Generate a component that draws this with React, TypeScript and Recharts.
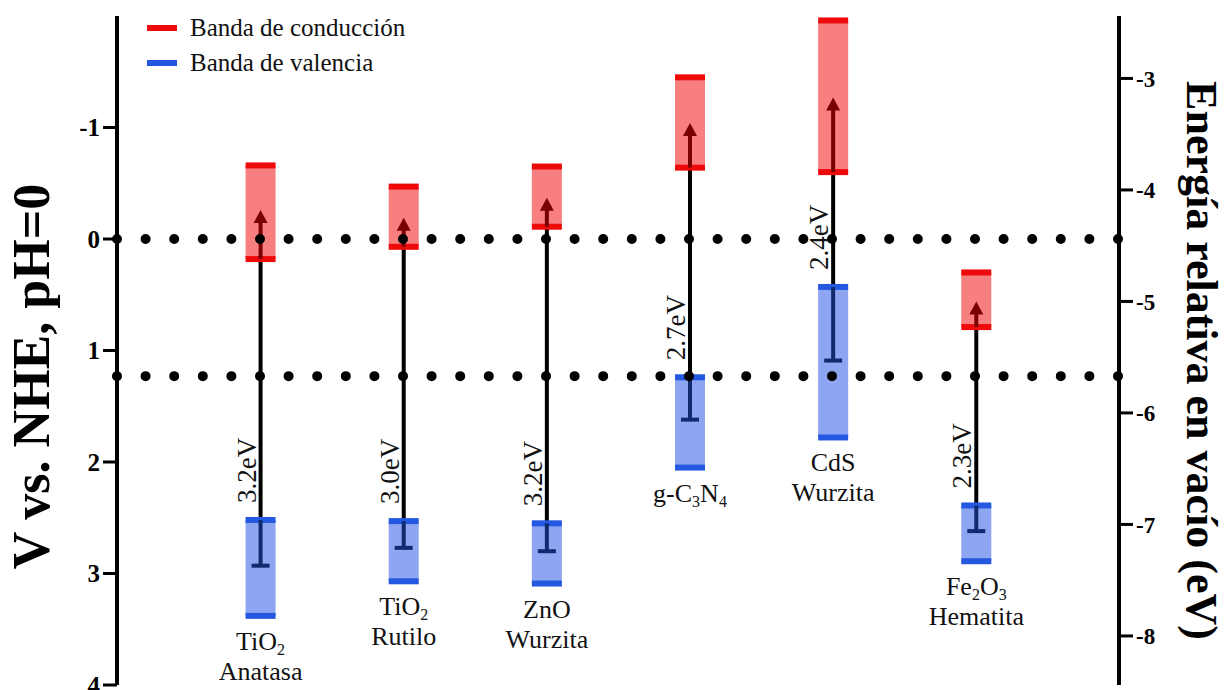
import { Bar, ComposedChart, Legend, ReferenceLine, XAxis, YAxis } from "recharts"

const SERIF = "Liberation Serif, Times New Roman, serif"

const formulas = ["TiO2", "TiO2", "ZnO", "g-C3N4", "CdS", "Fe2O3"]
const phases = ["Anatasa", "Rutilo", "Wurzita", "", "Wurzita", "Hematita"]
const gapLabels = ["3.2eV", "3.0eV", "3.2eV", "2.7eV", "2.4eV", "2.3eV"]

// band edge potentials, V vs NHE (pH=0)
const cbTop = [-0.66, -0.47, -0.65, -1.45, -1.96, 0.3]
const cbBottom = [0.18, 0.07, -0.11, -0.64, -0.6, 0.79]
const cbMean = [-0.26, -0.19, -0.37, -1.04, -1.27, 0.56]
const vbTop = [2.52, 2.53, 2.55, 1.24, 0.43, 2.39]
const vbBottom = [3.38, 3.07, 3.09, 2.05, 1.78, 2.89]
const vbMean = [2.93, 2.77, 2.8, 1.62, 1.09, 2.62]

const nheTicks = [-1, 0, 1, 2, 3, 4]
const vacTicks = [-3, -4, -5, -6, -7, -8]
const waterLevels = [0, 1.23] // H+/H2 and O2/H2O
const NHE_TO_VAC = -4.44
const nheDomain = [-2, 4]

const legendLabels = ["Banda de conducción", "Banda de valencia"]
const legendColors = ["#ee0a0a", "#2458e0"]

const data = formulas.map((formula, i) => ({
  pos: i + 1,
  formula,
  phase: phases[i],
  gap: gapLabels[i],
  cb: [cbTop[i], cbBottom[i]],
  cbArrow: [cbBottom[i], cbMean[i]],
  link: [cbBottom[i], vbTop[i]],
  vb: [vbTop[i], vbBottom[i]],
  vbBar: [vbTop[i], vbMean[i]],
}))

const span = (p: any) => {
  const top = Math.min(p.y, p.y + p.height)
  return { top, bottom: top + Math.abs(p.height), cx: p.x + p.width / 2 }
}

// digits become subscripts
const chem = (s: string) => {
  let sub = false
  return s
    .split(/(\d+)/)
    .filter(Boolean)
    .map((part, k) => {
      if (/^\d+$/.test(part)) {
        sub = true
        return (
          <tspan key={k} fontSize={16} dy={5}>
            {part}
          </tspan>
        )
      }
      const dy = sub ? -5 : 0
      sub = false
      return (
        <tspan key={k} dy={dy}>
          {part}
        </tspan>
      )
    })
}

const bandBox = (fill: string, edge: string, withName: boolean) => (p: any) => {
  const { top, bottom } = span(p)
  const row = p.payload || data[p.index]
  return (
    <g>
      <rect x={p.x} y={top} width={p.width} height={bottom - top} fill={fill} />
      <rect x={p.x} y={top - 3} width={p.width} height={6} fill={edge} />
      <rect x={p.x} y={bottom - 3} width={p.width} height={6} fill={edge} />
      {withName && (
        <text
          x={p.x + p.width / 2}
          y={bottom + 34}
          textAnchor="middle"
          style={{ fontFamily: SERIF }}
          fontSize={26}
          fill="#111"
        >
          {chem(row.formula)}
        </text>
      )}
      {withName && row.phase && (
        <text
          x={p.x + p.width / 2}
          y={bottom + 64}
          textAnchor="middle"
          style={{ fontFamily: SERIF }}
          fontSize={26}
          fill="#111"
        >
          {row.phase}
        </text>
      )}
    </g>
  )
}

const linkShape = (p: any) => {
  const { top, bottom, cx } = span(p)
  const row = p.payload || data[p.index]
  const ty = bottom - 17
  return (
    <g>
      <rect x={cx - 2} y={top} width={4} height={bottom - top} fill="#000" />
      <text
        x={cx - 5}
        y={ty}
        transform={`rotate(-90 ${cx - 5} ${ty})`}
        textAnchor="start"
        style={{ fontFamily: SERIF }}
        fontSize={27}
        fill="#111"
      >
        {row.gap}
      </text>
    </g>
  )
}

const arrowShape = (p: any) => {
  const { top, bottom, cx } = span(p)
  return (
    <g fill="#7a0000">
      <rect x={cx - 2} y={top + 10} width={4} height={bottom - top - 10} />
      <polygon points={`${cx - 7},${top + 13} ${cx + 7},${top + 13} ${cx},${top}`} />
    </g>
  )
}

const capShape = (p: any) => {
  const { top, bottom, cx } = span(p)
  return (
    <g fill="#102a6e">
      <rect x={cx - 2} y={top} width={4} height={bottom - top} />
      <rect x={cx - 9} y={bottom - 2} width={18} height={4} />
    </g>
  )
}

const renderLegend = () => (
  <div style={{ fontFamily: SERIF, fontSize: 25, color: "#111" }}>
    {legendLabels.map((label, i) => (
      <div key={label} style={{ display: "flex", alignItems: "center", height: 35 }}>
        <span
          style={{ width: 30, height: 6, background: legendColors[i], marginRight: 13, display: "inline-block" }}
        />
        {label}
      </div>
    ))}
  </div>
)

const leftTitle = ({ viewBox }: any) => {
  const x = viewBox.x + 49
  const y = viewBox.y + viewBox.height / 2 + 26
  return (
    <text
      x={x}
      y={y}
      transform={`rotate(-90 ${x} ${y})`}
      textAnchor="middle"
      style={{ fontFamily: SERIF }}
      fontWeight={700}
      fontSize={52}
      fill="#000"
    >
      V vs. NHE, pH=0
    </text>
  )
}

const rightTitle = ({ viewBox }: any) => {
  const x = viewBox.x + 68
  const y = viewBox.y + viewBox.height / 2 + 10
  return (
    <text
      x={x}
      y={y}
      transform={`rotate(90 ${x} ${y})`}
      textAnchor="middle"
      style={{ fontFamily: SERIF }}
      fontWeight={700}
      fontSize={44}
      fill="#000"
    >
      Energía relativa en vacío (eV)
    </text>
  )
}

const axisIds = ["link", "cb", "arrow", "vb", "ibar"]
const tickStyle = { fill: "#000", fontFamily: SERIF, fontWeight: 700 }

export default function App() {
  return (
    <div style={{ position: "absolute", left: 0, top: 0, background: "#fff" }}>
      <ComposedChart width={1228} height={690} data={data} margin={{ top: 16, right: 0, bottom: 5, left: 0 }}>
        {axisIds.map((id) => (
          <XAxis key={id} xAxisId={id} dataKey="pos" type="number" domain={[0, 7]} hide />
        ))}
        <YAxis
          yAxisId="nhe"
          orientation="left"
          type="number"
          domain={nheDomain}
          reversed
          allowDataOverflow
          ticks={nheTicks}
          interval={0}
          width={117}
          axisLine={{ stroke: "#000", strokeWidth: 4 }}
          tickLine={{ stroke: "#000", strokeWidth: 3 }}
          tickSize={14}
          tickMargin={3}
          tick={{ ...tickStyle, fontSize: 25 }}
          label={leftTitle}
        />
        <YAxis
          yAxisId="vac"
          orientation="right"
          type="number"
          domain={[NHE_TO_VAC - nheDomain[1], NHE_TO_VAC - nheDomain[0]]}
          allowDataOverflow
          ticks={vacTicks}
          interval={0}
          width={109}
          axisLine={{ stroke: "#000", strokeWidth: 4 }}
          tickLine={{ stroke: "#000", strokeWidth: 3 }}
          tickSize={14}
          tickMargin={3}
          tick={{ ...tickStyle, fontSize: 23 }}
          label={rightTitle}
        />
        <Legend
          content={renderLegend}
          layout="horizontal"
          verticalAlign="middle"
          align="center"
          wrapperStyle={{ top: 10, left: 147, width: "auto" }}
        />
        <Bar xAxisId="link" yAxisId="nhe" dataKey="link" barSize={4} shape={linkShape} isAnimationActive={false} />
        <Bar
          xAxisId="cb"
          yAxisId="nhe"
          dataKey="cb"
          barSize={30}
          shape={bandBox("rgba(240,0,0,0.5)", "#ee0a0a", false)}
          isAnimationActive={false}
        />
        <Bar xAxisId="arrow" yAxisId="nhe" dataKey="cbArrow" barSize={14} shape={arrowShape} isAnimationActive={false} />
        <Bar
          xAxisId="vb"
          yAxisId="nhe"
          dataKey="vb"
          barSize={30}
          shape={bandBox("rgba(30,75,230,0.5)", "#2458e0", true)}
          isAnimationActive={false}
        />
        <Bar xAxisId="ibar" yAxisId="nhe" dataKey="vbBar" barSize={18} shape={capShape} isAnimationActive={false} />
        {waterLevels.map((v) => (
          <ReferenceLine
            key={v}
            xAxisId="cb"
            yAxisId="nhe"
            y={v}
            stroke="#000"
            strokeWidth={10}
            strokeLinecap="round"
            strokeDasharray="0 28.6"
          />
        ))}
      </ComposedChart>
    </div>
  )
}
